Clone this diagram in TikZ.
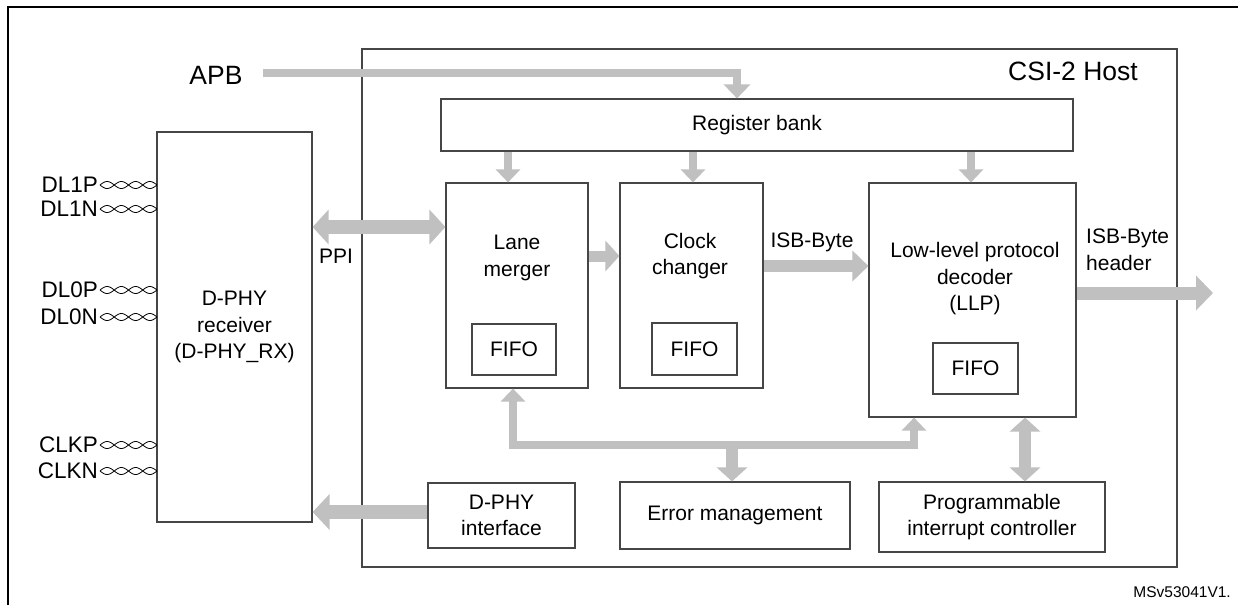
\documentclass[tikz,border=0pt]{standalone}
\usepackage{fontspec}
\setmainfont{Liberation Sans}
\usetikzlibrary{arrows.meta}
\definecolor{agray}{RGB}{192,192,192}
\definecolor{lgray}{RGB}{70,70,70}
\newcommand\twistpair[1]{%
  \draw[black,line width=0.8pt] plot[domain=0:57,samples=80,smooth] ({100+\x},{#1+3.5*sin(\x*180/14.25)});
  \draw[black,line width=0.8pt] plot[domain=0:57,samples=80,smooth] ({100+\x},{#1-3.5*sin(\x*180/14.25)});}
\begin{document}
\begin{tikzpicture}[x=1pt,y=-1pt,
  box/.style={draw=lgray,line width=1.2pt,fill=white,inner sep=0pt,align=center,font=\fontsize{21}{26.5}\selectfont},
  lbl/.style={align=center,inner sep=0pt,font=\fontsize{21}{26.5}\selectfont},
  ga/.style={draw=agray,line width=#1,line join=miter},
  tip/.style 2 args={-{Triangle[width=#1,length=#2]}},
  dtip/.style 2 args={{Triangle[width=#1,length=#2]}-{Triangle[width=#1,length=#2]}}]
\useasboundingbox (0,0) rectangle (1238,605);
\draw[black,line width=2.2pt] (8,605) -- (8,7) -- (1238,7);
% boxes
\node[box,minimum width=815,minimum height=518] (host) at (769.5,308) {};
\node[box,minimum width=155,minimum height=390] (rx) at (234.5,327) {D-PHY\\receiver\\(D-PHY\_RX)};
\node[box,minimum width=632,minimum height=52] (reg) at (757,125) {Register bank};
\node[box,minimum width=142,minimum height=205] (lane) at (517,285.5) {};
\node[box,minimum width=84,minimum height=51] (lfifo) at (514,349.5) {FIFO};
\node[box,minimum width=143,minimum height=205] (clk) at (691.5,285.5) {};
\node[box,minimum width=85,minimum height=52] (cfifo) at (694.5,349) {FIFO};
\node[box,minimum width=207,minimum height=234] (llp) at (972.5,300) {};
\node[box,minimum width=85,minimum height=51] (pfifo) at (975.5,368.5) {FIFO};
\node[box,minimum width=147,minimum height=65] (dif) at (501.5,515.5) {D-PHY\\interface};
\node[box,minimum width=230,minimum height=67] (err) at (735,515.5) {Error management};
\node[box,minimum width=226,minimum height=70] (prog) at (992,517) {Programmable\\interrupt controller};
\node[lbl] (lanet) at (517,258) {Lane\\merger};
\node[lbl] (clkt) at (690,256) {Clock\\changer};
\node[lbl] (llpt) at (975,279) {Low-level protocol\\decoder\\(LLP)};
% texts
\node[inner sep=0pt,font=\fontsize{26.5}{30}\selectfont] (apb) at (216,75) {APB};
\node[inner sep=0pt,font=\fontsize{26.5}{30}\selectfont] (hostt) at (1073,71) {CSI-2 Host};
\node[lbl] (ppi) at (336,256) {PPI};
\node[lbl] (isb) at (812,242) {ISB-Byte};
\node[lbl,anchor=west,align=left] (isbh) at (1086,250) {ISB-Byte\\header};
\node[inner sep=0pt,anchor=east,font=\fontsize{15.5}{18}\selectfont] (ms) at (1231,592) {MSv53041V1.};
% pins
\foreach \n/\y in {DL1P/185,DL1N/209,DL0P/290,DL0N/317,CLKP/445,CLKN/471}{
  \node[inner sep=0pt,anchor=east,font=\fontsize{22.5}{24}\selectfont] (pin\n) at (98,\y) {\n};
  \twistpair{\y}}
% arrows
\coordinate (apbs) at (263,73);
\draw[ga=8pt,tip={26pt}{14pt}] (apbs) -- (737,73) -- (reg.north -| 737,0);
\foreach \x in {508,693,971}
  \draw[ga=8pt,tip={24pt}{13pt}] (reg.south -| \x,0) -- (lane.north -| \x,0);
\draw[ga=14pt,dtip={34pt}{16pt}] (rx.east |- 0,227) -- (lane.west |- 0,227);
\draw[ga=11pt,tip={30pt}{14pt}] (lane.east |- 0,256) -- (clk.west |- 0,256);
\draw[ga=12pt,tip={30pt}{16pt}] (clk.east |- 0,266) -- (llp.west |- 0,266);
\coordinate (out) at (1213,293);
\draw[ga=13pt,tip={34pt}{17pt}] (llp.east |- out) -- (out);
\draw[ga=14pt,tip={35pt}{17pt}] (dif.west |- 0,512) -- (rx.east |- 0,512);
\draw[ga=8pt,dtip={24pt}{13pt}] (lane.south -| 513,0) -- (513,445) -- (914,445) -- (llp.south -| 914,0);
\draw[ga=12pt,tip={30pt}{14pt}] (732,445) -- (err.north -| 732,0);
\draw[ga=12pt,dtip={30pt}{14pt}] (llp.south -| 1025,0) -- (prog.north -| 1025,0);
\end{tikzpicture}
\end{document}
